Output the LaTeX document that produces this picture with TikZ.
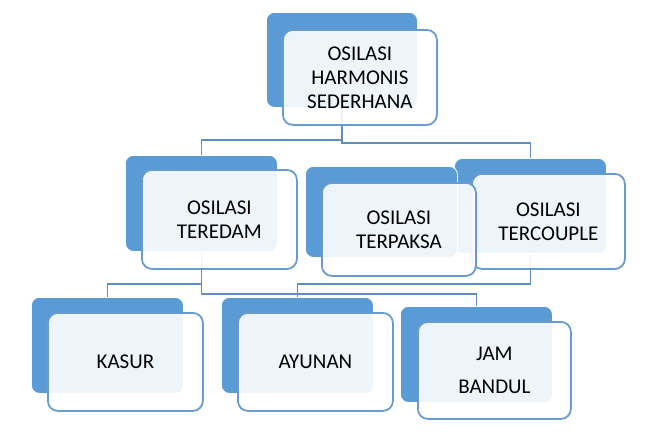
\documentclass[tikz,border=0pt]{standalone}
\usepackage{fontspec}
\setmainfont{Carlito}
\definecolor{backblue}{HTML}{5B9BD5}
\definecolor{frontline}{HTML}{6A9BCF}
\definecolor{connblue}{HTML}{5E8EC3}
\tikzset{
  backbox/.style={rectangle, rounded corners=8pt, fill=backblue, draw=white, line width=0.8pt, inner sep=0pt, anchor=north west},
  frontbox/.style={rectangle, rounded corners=10pt, fill=white, fill opacity=0.9, draw opacity=1, text opacity=1, draw=frontline, line width=1.8pt, inner sep=0pt, anchor=north west, align=center, font=\fontsize{21}{24}\selectfont, text=black},
  conn/.style={draw=connblue, line width=1.6pt}
}
\begin{document}
\begin{tikzpicture}[x=1pt,y=-1pt]
\useasboundingbox (0,0) rectangle (650,440);
% invisible placement of back nodes first for connectors
\path
  (266,12)  node[backbox, minimum width=151pt, minimum height=95pt, fill=none, draw=none] (topb) {}
  (125,155) node[backbox, minimum width=152pt, minimum height=96pt, fill=none, draw=none] (tedb) {}
  (305,166) node[backbox, minimum width=152pt, minimum height=91pt, fill=none, draw=none] (tpkb) {}
  (454,158) node[backbox, minimum width=152pt, minimum height=95pt, fill=none, draw=none] (tcpb) {}
  (31,297)  node[backbox, minimum width=152pt, minimum height=96pt, fill=none, draw=none] (kasb) {}
  (221,297) node[backbox, minimum width=152pt, minimum height=96pt, fill=none, draw=none] (ayub) {}
  (400,306) node[backbox, minimum width=152pt, minimum height=96pt, fill=none, draw=none] (jamb) {};
% connectors
\draw[conn] (topb.south) -- ++(0,32) -| (tedb.north);
\draw[conn] (topb.south) -- ++(0,35) -| (tcpb.north);
\draw[conn] (tedb.south) -- ++(0,32) -| (kasb.north);
\draw[conn] (tedb.south) -- ++(0,42) -| (jamb.north);
\draw[conn] (tcpb.south) -- ++(0,30) -| (ayub.north);
% top
\node[backbox, minimum width=151pt, minimum height=95pt] (topbk) at (266,12) {};
\node[frontbox, minimum width=154pt, minimum height=95pt] (topf) at (282,29) {OSILASI\\HARMONIS\\SEDERHANA};
% teredam
\node[backbox, minimum width=152pt, minimum height=96pt] (tedbk) at (125,155) {};
\node[frontbox, minimum width=155pt, minimum height=99pt] (tedf) at (141,169) {OSILASI\\TEREDAM};
% tercouple
\node[backbox, minimum width=152pt, minimum height=95pt] (tcpbk) at (454,158) {};
\node[frontbox, minimum width=153pt, minimum height=95pt] (tcpf) at (471,173) {OSILASI\\TERCOUPLE};
% terpaksa
\node[backbox, minimum width=152pt, minimum height=91pt] (tpkbk) at (305,166) {};
\node[frontbox, minimum width=154pt, minimum height=93pt] (tpkf) at (321,182) {OSILASI\\TERPAKSA};
% kasur
\node[backbox, minimum width=152pt, minimum height=96pt] (kasbk) at (31,297) {};
\node[frontbox, minimum width=155pt, minimum height=98pt] (kasf) at (47,312) {KASUR};
% ayunan
\node[backbox, minimum width=152pt, minimum height=96pt] (ayubk) at (221,297) {};
\node[frontbox, minimum width=155pt, minimum height=98pt] (ayuf) at (237,312) {AYUNAN};
% jam bandul
\node[backbox, minimum width=152pt, minimum height=96pt] (jambk) at (400,306) {};
\node[frontbox, minimum width=153pt, minimum height=97pt, font=\fontsize{21}{33}\selectfont] (jamf) at (417,321) {JAM\\BANDUL};
\end{tikzpicture}
\end{document}
